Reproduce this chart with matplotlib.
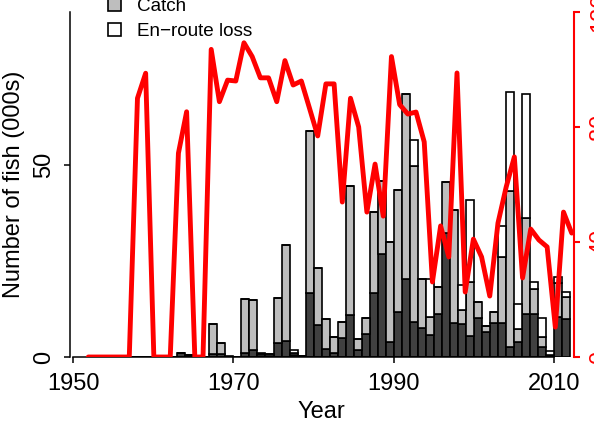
import matplotlib
matplotlib.use("Agg")
import matplotlib.pyplot as plt
from matplotlib.patches import Patch

plt.rcParams["font.family"] = "Liberation Sans"

# bar years (left edge of each bar) and stacked components, thousands of fish
years = list(range(1952, 2012))
escapement = [0, 0, 0, 0, 0, 0, 0, 0, 0, 0, 0,
              1.0, 0.4, 0.3, 0, 0.8, 0.8, 0, 0,
              1.1, 1.8, 0.3, 0.3, 3.7, 4.2, 0.4, 0.2, 16.6, 8.3,
              2.0, 1.0, 4.9, 10.9, 1.8, 5.9, 16.6, 26.8, 4.0, 11.8,
              20.3, 9.2, 7.6, 5.7, 11.2, 32.2, 8.8, 8.5, 5.5, 10.1,
              6.4, 8.9, 8.9, 2.7, 4.0, 11.1, 11.1, 2.5, 0.6, 10.5, 9.8]
catch = [0, 0, 0, 0, 0, 0, 0, 0, 0, 0, 0,
         0, 0, 0, 0, 7.8, 2.8, 0, 0,
         14.0, 13.0, 0.5, 0.4, 11.7, 25.0, 0.6, 0.1, 42.3, 14.9,
         7.8, 4.1, 4.2, 33.6, 2.8, 4.3, 21.1, 19.1, 25.9, 31.7,
         48.2, 40.5, 12.7, 4.6, 7.1, 13.5, 29.5, 3.7, 14.1, 4.3,
         1.8, 2.9, 17.1, 40.4, 3.2, 25.0, 6.6, 2.8, 0, 8.7, 5.9]
enroute = [0, 0, 0, 0, 0, 0, 0, 0, 0, 0, 0,
           0, 0, 0, 0, 0, 0, 0.3, 0,
           0, 0, 0.3, 0, 0, 0, 0.8, 0, 0, 0,
           0, 0, 0, 0, 0, 0, 0, 0, 0, 0,
           0, 6.8, 0, 10.0, 0, 0, 0, 6.5, 21.3, 0,
           0, 0, 8.2, 26.0, 6.6, 32.3, 1.9, 4.8, 1.0, 1.6, 1.3]

# red series, one value per year (index 1..60)
rate_idx = list(range(1, 61))
rate = [0, 0, 0, 0, 0, 0, 90.0, 98.7, 0, 0, 0, 70.9, 85.3, 0, 0,
        107.0, 88.8, 96.3, 96.0, 109.3, 104.5, 97.1, 97.1, 88.8, 103.1,
        94.6, 96.0, 86.5, 76.9, 95.0, 95.0, 53.9, 90.0, 80.0, 50.4,
        67.1, 49.0, 104.5, 87.8, 84.5, 85.2, 74.8, 26.1, 45.6, 34.8,
        98.8, 22.6, 41.0, 34.8, 21.2, 46.6, 59.1, 69.6, 27.5, 44.5,
        40.7, 38.3, 10.4, 50.4, 43.1]

labels = ["Escapement", "Catch", "En\u2212route loss"]
colors = ["#404040", "#bebebe", "white"]

W, H = 594, 423
fig = plt.figure(figsize=(W / 100, H / 100), dpi=100)
# plot region: x 69.5..574, y 12..357 (pixels from top-left)
pos = [69.5 / W, 66 / H, (574 - 69.5) / W, 345 / H]

ax = fig.add_axes(pos)
bottom2 = [a + b for a, b in zip(escapement, catch)]
for vals, base, col in [(escapement, None, colors[0]),
                        (catch, escapement, colors[1]),
                        (enroute, bottom2, colors[2])]:
    ax.bar(years, vals, bottom=base, width=1, align="edge",
           color=col, edgecolor="black", linewidth=1.2, zorder=2)

ax.set_xlim(1949.56, 2012.47)
ax.set_ylim(0, 345 / 3.84)
ax.set_xticks([1950, 1970, 1990, 2010])
ax.set_yticks([0, 50])
ax.spines["top"].set_visible(False)
ax.spines["right"].set_visible(False)
ax.spines["bottom"].set_bounds(1950, 2010)
for s in ["left", "bottom"]:
    ax.spines[s].set_linewidth(1.1)
ax.tick_params(axis="both", direction="out", length=4.5, width=1.1,
               labelsize=17)
ax.tick_params(axis="x", pad=7)
ax.tick_params(axis="y", labelrotation=90, pad=6)
for lbl in ax.get_yticklabels():
    lbl.set_va("center")
ax.set_xlabel("Year", fontsize=17, labelpad=4)
ax.set_ylabel("Number of fish (000s)", fontsize=17, labelpad=6)

# overlay axes for the red line (own x and y scale)
ax2 = fig.add_axes(pos, facecolor="none")
ax2.plot(rate_idx, rate, color="red", linewidth=3.5,
         solid_joinstyle="round", solid_capstyle="round", zorder=3)
ax2.set_xlim(-1.295, 60.28)
ax2.set_ylim(0, 120)
ax2.set_xticks([])
for s in ["left", "top", "bottom"]:
    ax2.spines[s].set_visible(False)
ax2.spines["right"].set_color("red")
ax2.spines["right"].set_linewidth(1.5)
ax2.spines["right"].set_clip_on(False)
ax2.yaxis.tick_right()
ax2.set_yticks([0, 40, 80, 120])
ax2.tick_params(axis="y", colors="red", direction="out", length=4.5,
                width=1.5, labelsize=17, labelrotation=90, pad=6.5)
for lbl in ax2.get_yticklabels():
    lbl.set_va("center")
    lbl.set_clip_on(False)

handles = [Patch(facecolor=c, edgecolor="black", linewidth=1.2) for c in colors]
fig.legend(handles, labels, loc="center left",
           bbox_to_anchor=(108 / W, (H - 6) / H), frameon=False,
           fontsize=13.6, handlelength=0.7, handleheight=0.7,
           handletextpad=0.85, labelspacing=0.42, borderpad=0,
           borderaxespad=0)

fig.savefig("out.png", dpi=100)
